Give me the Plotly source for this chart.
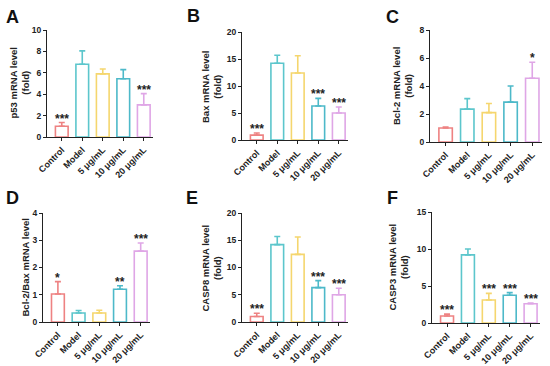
import plotly.graph_objects as go

categories = ["Control", "Model", "5 μg/mL", "10 μg/mL", "20 μg/mL"]
colors = ["#EE8282", "#5CC6CC", "#F5D66E", "#4DB9C9", "#DFA6E6"]

p53_mean = [1.0, 6.8, 5.9, 5.45, 3.0]
p53_top = [1.35, 8.05, 6.35, 6.3, 4.05]
p53_sig = ["***", "", "", "", "***"]

bax_mean = [0.9, 14.2, 12.4, 6.3, 5.0]
bax_top = [1.3, 15.7, 15.6, 7.7, 6.1]
bax_sig = ["***", "", "", "***", "***"]

bcl2_mean = [1.0, 2.35, 2.1, 2.85, 4.55]
bcl2_top = [1.07, 3.1, 2.75, 4.0, 5.7]
bcl2_sig = ["", "", "", "", "*"]

ratio_mean = [1.03, 0.33, 0.33, 1.2, 2.6]
ratio_top = [1.48, 0.42, 0.43, 1.33, 2.9]
ratio_sig = ["*", "", "", "**", "***"]

casp8_mean = [1.0, 14.2, 12.4, 6.3, 5.0]
casp8_top = [1.6, 15.7, 15.6, 7.6, 6.2]
casp8_sig = ["***", "", "", "***", "***"]

casp3_mean = [0.95, 9.2, 3.1, 3.75, 2.6]
casp3_top = [1.2, 10.0, 4.0, 4.1, 2.7]
casp3_sig = ["***", "", "***", "***", "***"]

panels = [
    dict(letter="A", mean=p53_mean, top=p53_top, sig=p53_sig, ymax=10, dtick=2,
         title="p53 mRNA level<br>(fold)", tx=19, px=(47, 153), py=(30, 137), lx=12, ly=17),
    dict(letter="B", mean=bax_mean, top=bax_top, sig=bax_sig, ymax=20, dtick=5,
         title="Bax mRNA level<br>(fold)", tx=211, px=(242, 348), py=(32, 140), lx=193, ly=16),
    dict(letter="C", mean=bcl2_mean, top=bcl2_top, sig=bcl2_sig, ymax=8, dtick=2,
         title="Bcl-2 mRNA level<br>(fold)", tx=402, px=(430, 542), py=(30, 142), lx=392, ly=17),
    dict(letter="D", mean=ratio_mean, top=ratio_top, sig=ratio_sig, ymax=4, dtick=1,
         title="Bcl-2/Bax mRNA level", tx=25, px=(43, 150), py=(213, 322), lx=12, ly=198),
    dict(letter="E", mean=casp8_mean, top=casp8_top, sig=casp8_sig, ymax=20, dtick=5,
         title="CASP8 mRNA level<br>(fold)", tx=211, px=(242, 348), py=(213, 322), lx=192, ly=198),
    dict(letter="F", mean=casp3_mean, top=casp3_top, sig=casp3_sig, ymax=15, dtick=5,
         title="CASP3 mRNA level<br>(fold)", tx=398, px=(432, 540), py=(212, 323), lx=392, ly=198),
]

W, H = 550, 366
FONT = "Liberation Sans, Arial, sans-serif"

fig = go.Figure()
annotations = []
layout_axes = {}

for i, p in enumerate(panels):
    n = i + 1
    xa = "x" if n == 1 else f"x{n}"
    ya = "y" if n == 1 else f"y{n}"
    for j, cat in enumerate(categories):
        fig.add_trace(go.Bar(
            x=[cat], y=[p["mean"][j]],
            xaxis=xa, yaxis=ya,
            width=0.62,
            marker=dict(color="white", line=dict(color=colors[j], width=1.6)),
            error_y=dict(type="data", symmetric=False,
                         array=[p["top"][j] - p["mean"][j]], arrayminus=[0],
                         color=colors[j], thickness=1.6, width=3),
            showlegend=False, hoverinfo="skip",
        ))
        if p["sig"][j]:
            annotations.append(dict(
                x=cat, y=p["top"][j], xref=xa, yref=ya,
                text="<b>" + p["sig"][j] + "</b>", showarrow=False,
                yanchor="bottom", yshift=-5,
                font=dict(family=FONT, size=12, color="#222"),
            ))
    xk = "xaxis" if n == 1 else f"xaxis{n}"
    yk = "yaxis" if n == 1 else f"yaxis{n}"
    layout_axes[xk] = dict(
        domain=[p["px"][0] / W, p["px"][1] / W], anchor=ya, automargin=False,
        type="category", categoryorder="array", categoryarray=categories,
        range=[-0.72, 4.45], showline=True, linecolor="#222", linewidth=1.3,
        ticks="outside", ticklen=3, tickwidth=1.2, tickcolor="#222",
        tickangle=-45, showgrid=False, zeroline=False,
        tickfont=dict(family=FONT, size=9, color="#222"),
    )
    layout_axes[yk] = dict(
        domain=[1 - p["py"][1] / H, 1 - p["py"][0] / H], anchor=xa, automargin=False,
        range=[0, p["ymax"]], dtick=p["dtick"], showline=True,
        linecolor="#222", linewidth=1.3, ticks="outside", ticklen=3,
        tickwidth=1.2, tickcolor="#222", showgrid=False, zeroline=False,
        tickfont=dict(family=FONT, size=8.5, color="#222"),
        tickformat="d",
    )
    annotations.append(dict(
        x=p["tx"] / W, y=1 - (p["py"][0] + p["py"][1]) / 2 / H,
        xref="paper", yref="paper", textangle=-90,
        text="<b>" + p["title"] + "</b>", showarrow=False,
        xanchor="center", yanchor="middle",
        font=dict(family=FONT, size=9.5, color="#222"),
    ))
    annotations.append(dict(
        x=p["lx"] / W, y=1 - p["ly"] / H, xref="paper", yref="paper",
        text="<b>" + p["letter"] + "</b>", showarrow=False,
        xanchor="center", yanchor="middle",
        font=dict(family=FONT, size=18, color="#111"),
    ))

fig.update_layout(
    width=W, height=H,
    margin=dict(l=0, r=0, t=0, b=0),
    paper_bgcolor="white", plot_bgcolor="white",
    annotations=annotations,
    barmode="overlay",
    font=dict(family=FONT),
    **layout_axes,
)
fig.update_xaxes(tickprefix="<b>", ticksuffix="</b>")
fig.update_yaxes(tickprefix="<b>", ticksuffix="</b>")

fig.write_html("out.html", config={"displayModeBar": False},
               post_script="document.body.style.margin='0';document.body.style.padding='0';")
